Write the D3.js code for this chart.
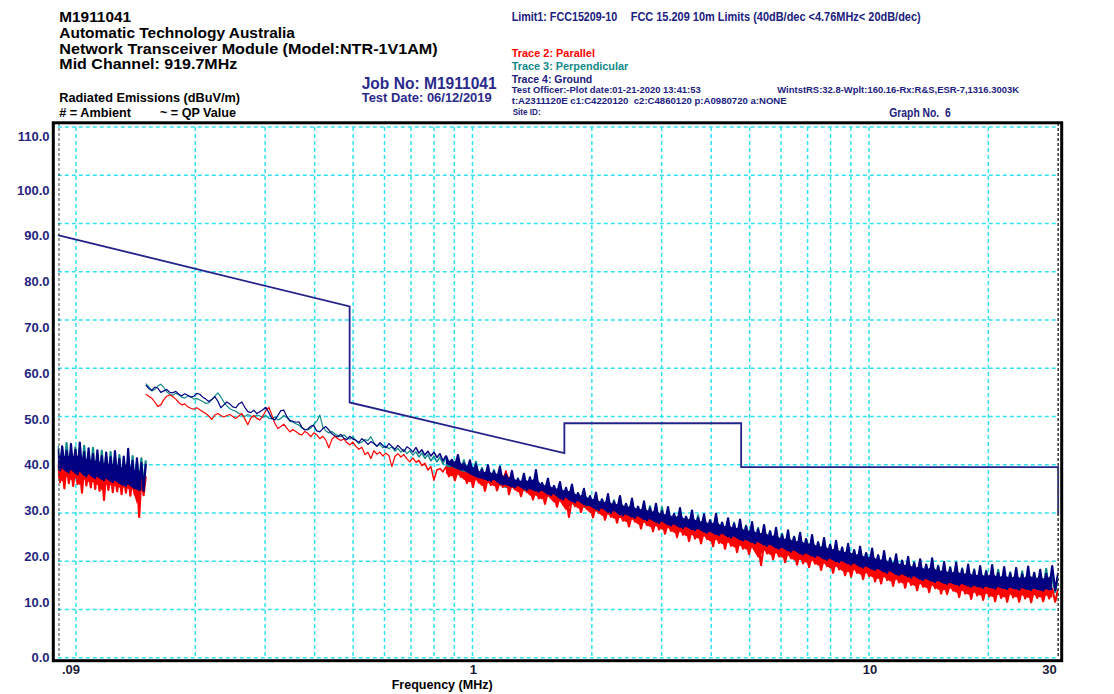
<!DOCTYPE html>
<html>
<head>
<meta charset="utf-8">
<script src="https://cdn.jsdelivr.net/npm/d3@7"></script>
<style>
  body { margin: 0; background: #fff; }
  svg { display: block; }
  text { font-family: "Liberation Sans", Arial, sans-serif; font-weight: bold; white-space: pre; }
</style>
</head>
<body>
<svg id="chart" width="1114" height="694"></svg>
<script>
// ---- axis values -------------------------------------------------------
const yTicks = [0, 10, 20, 30, 40, 50, 60, 70, 80, 90, 100, 110];
const yTickLabels = ["0.0", "10.0", "20.0", "30.0", "40.0", "50.0", "60.0", "70.0", "80.0", "90.0", "100.0", "110.0"];
const xTickValues = [0.09, 1, 10, 30];
const xTickLabels = [".09", "1", "10", "30"];
const gridMHz = [0.1, 0.2, 0.3, 0.4, 0.5, 0.6, 0.7, 0.8, 0.9, 1, 2, 3, 4, 5, 6, 7, 8, 9, 10, 20];

// ---- FCC 15.209 limit (10 m) ---------------------------------------------
const limitMHz = [0.09, 0.49, 0.49, 1.705, 1.705, 4.76, 4.76, 30, 30];
const limitDb  = [87.6, 72.8, 52.9, 42.4, 48.6, 48.6, 39.5, 39.5, 29.5];

// ---- 90 kHz - 150 kHz sweep (peak/trough pairs, dBuV/m) ----------------
const ambientGround = [43.2,38.8,43.8,39.2,42.9,38.4,44.3,38.9,43.1,38.0,
  44.6,38.5,42.6,37.6,43.4,38.1,42.2,37.2,43.0,37.5,
  41.8,36.8,42.5,37.1,41.6,36.4,42.8,36.7,41.2,36.0,
  41.7,35.6,43.3,35.9,40.8,35.2,41.3,34.8,40.4,34.6,
  40.2];
const ambientPerp = [43.9,39.4,43.0,38.7,44.5,39.0,42.7,38.2,43.6,38.6,
  43.2,37.9,43.9,38.3,42.4,37.5,43.5,37.8,42.1,37.0,
  42.9,37.3,41.8,36.6,42.6,36.9,41.5,36.2,42.0,35.8,
  41.2,35.9,40.7,35.4,41.8,35.1,40.6,35.2,41.3,35.0,
  40.9];
const ambientParallel = [40.2,36.4,39.8,35.1,40.5,36.2,39.6,35.6,39.9,36.0,
  39.4,34.2,39.8,35.7,39.1,35.3,39.5,35.0,38.8,34.6,
  39.2,32.7,38.6,34.8,38.9,34.3,38.2,34.5,38.5,33.9,
  37.8,34.2,38.3,33.6,37.6,33.8,37.9,29.2,37.4,33.7,
  37.6];

// ---- 150 kHz - 30 MHz sweep (dBuV/m) -----------------------------------
// above ~0.8 MHz the readings alternate peak / trough
const sweepGround = [56.5,55.8,55.4,56.1,55.9,55.0,55.3,55.6,55.0,54.9,
  55.2,54.6,54.3,54.7,54.4,54.0,54.2,54.8,54.6,54.0,
  53.6,53.1,53.5,54.1,53.2,51.8,52.4,53.0,52.6,52.0,
  51.8,52.6,53.0,51.9,51.0,50.8,51.3,50.6,51.0,51.4,
  51.9,50.8,49.6,49.3,50.2,51.2,51.3,50.0,49.2,49.0,
  48.8,48.9,47.8,47.2,47.4,48.0,48.1,47.0,46.8,47.5,
  47.9,47.2,46.4,46.0,45.8,46.3,45.5,45.2,45.9,45.3,
  45.1,44.6,45.4,44.9,44.2,44.8,44.4,43.8,44.6,44.0,
  43.5,44.4,43.8,43.2,44.0,43.4,42.7,43.7,43.3,42.6,
  43.6,42.4,43.1,42.0,42.8,41.8,42.6,41.5,42.3,40.8,
  41.9,40.2,41.0,39.6,42.0,39.0,40.3,38.8,40.9,38.0,
  40.1,37.4,39.0,37.1,39.9,36.6,38.6,36.9,39.6,35.9,
  38.0,35.8,38.7,35.3,37.0,35.6,38.1,34.8,37.4,34.9,
  38.9,34.4,36.2,34.6,37.1,33.7,35.6,33.9,36.4,32.8,
  35.2,33.1,35.9,32.2,34.1,32.5,35.0,31.6,33.5,31.4,
  34.2,30.6,32.8,30.9,33.9,30.0,32.3,30.4,33.5,29.5,
  31.9,29.7,33.0,29.0,31.3,29.3,32.4,28.5,31.0,28.7,
  31.9,27.9,30.4,28.2,31.2,27.4,29.8,27.6,31.0,26.9,
  29.2,27.1,30.5,26.4,29.0,26.7,29.7,25.9,28.5,26.1,
  29.8,25.4,28.0,25.7,28.9,24.9,27.7,25.1,28.6,24.3,
  27.2,24.4,28.1,23.7,26.6,24.0,27.5,23.2,26.2,23.4,
  26.9,22.6,25.4,22.8,26.4,22.0,25.0,22.2,25.9,21.4,
  24.6,21.6,25.4,20.9,23.9,21.1,24.8,20.3,23.4,20.5,
  24.2,19.8,22.8,20.0,23.6,19.3,22.3,19.5,23.0,18.7,
  21.7,18.9,22.6,18.2,21.2,18.4,22.1,17.6,20.6,17.9,
  21.4,17.1,20.1,17.3,20.9,16.6,19.6,16.9,20.4,16.1,
  19.3,16.3,20.6,15.7,18.9,15.9,19.8,15.3,18.6,15.5,
  19.7,15.0,18.3,15.3,19.3,14.7,18.1,14.9,19.0,14.5,
  17.9,14.7,19.2,14.3,17.6,14.6,18.8,14.2,17.5,14.5,
  18.6,14.1,17.3,14.4,18.9,14.0,17.6,14.3,18.2,13.9,
  17.4,14.2,19.0,14.0,17.6];
const sweepPerp = [56.8,56.2,55.3,55.6,56.3,56.7,56.0,55.1,54.6,54.4,
  54.8,54.5,54.0,53.8,54.3,54.1,53.6,53.7,53.4,53.1,
  52.7,52.8,53.5,54.2,54.9,54.1,53.0,52.2,51.6,51.3,
  51.1,50.6,50.3,50.0,50.4,50.1,49.9,50.3,50.1,49.8,
  50.2,49.6,49.5,49.9,49.3,49.6,50.2,49.8,49.0,48.8,
  48.5,48.2,47.6,47.3,47.2,47.6,48.4,49.0,50.3,47.8,
  47.0,46.6,46.9,46.4,46.0,45.8,46.2,45.6,45.3,45.8,
  45.0,44.4,44.7,45.2,45.0,45.8,44.6,43.9,44.2,43.5,
  43.9,43.3,43.7,42.8,43.4,42.6,43.2,42.3,42.9,42.0,
  42.7,41.6,42.4,41.3,42.1,40.8,41.8,40.6,41.6,40.1,
  41.5,39.6,41.0,39.0,40.8,38.6,40.9,38.1,39.9,37.6,
  40.6,37.1,39.3,36.4,38.8,36.5,38.9,36.1,38.1,35.7,
  37.8,35.1,37.5,35.3,37.2,34.7,36.9,34.5,36.7,34.3,
  36.4,34.1,36.2,33.9,35.9,33.4,35.3,33.0,35.0,32.5,
  34.8,32.3,34.4,31.8,34.1,31.4,33.6,31.1,33.2,30.5,
  33.0,30.3,32.8,29.9,32.2,29.7,32.6,29.4,33.1,29.1,
  31.8,29.0,32.2,28.8,31.2,28.4,30.9,28.1,31.4,27.8,
  30.4,27.6,31.1,27.4,30.0,27.1,29.8,26.8,30.2,26.6,
  29.2,26.4,29.0,26.1,29.5,25.8,28.4,25.5,28.3,25.3,
  28.7,25.1,27.9,24.9,27.7,24.5,28.0,24.2,27.2,24.0,
  27.4,23.7,26.5,23.4,26.9,23.1,25.9,22.9,26.2,22.5,
  25.3,22.2,25.7,21.9,24.8,21.6,25.1,21.3,25.2,21.1,
  24.5,20.8,23.7,20.5,23.9,20.2,23.1,19.9,23.4,19.6,
  22.5,19.4,22.8,19.1,21.9,18.9,22.2,18.6,21.4,18.3,
  21.6,18.1,20.9,17.8,21.2,17.5,20.3,17.2,20.6,16.9,
  19.9,16.7,20.1,16.4,19.4,16.2,19.8,15.9,19.0,15.7,
  19.2,15.5,18.7,15.3,19.1,15.1,18.4,14.9,18.8,14.8,
  18.1,14.6,18.5,14.5,17.8,14.3,18.3,14.2,17.6,14.1,
  18.0,14.0,17.4,13.9,18.2,13.9,17.2,13.8,17.7,13.8,
  17.1,13.7,17.9,13.7,17.0,13.6,17.5,13.6,16.9,13.7,
  18.4,13.5,17.1,13.6,16.8];
const sweepParallel = [54.6,54.2,53.8,53.0,52.1,52.4,53.5,54.2,54.5,54.1,
  53.6,52.9,52.4,52.6,52.0,51.7,51.5,51.8,51.4,51.0,
  50.6,50.1,49.4,50.3,50.6,50.2,49.9,50.2,50.4,50.0,
  49.6,50.1,50.6,49.5,48.3,49.7,50.2,49.6,49.3,50.1,
  51.2,51.9,50.3,48.6,47.5,47.9,48.4,47.6,46.8,47.3,
  46.9,46.4,46.2,46.9,46.5,45.8,46.6,46.2,45.4,45.9,
  45.1,43.5,45.2,45.9,45.4,45.0,45.4,44.6,44.1,44.7,
  43.8,43.2,43.6,42.1,42.6,41.3,42.9,42.2,42.6,41.8,
  42.4,41.9,39.6,41.7,42.3,41.6,42.1,41.2,40.6,41.4,
  40.5,40.9,39.8,40.3,38.9,39.6,36.8,38.9,39.2,38.5,
  39.6,37.6,39.4,36.8,39.0,37.5,38.4,36.2,38.6,35.4,
  38.1,36.3,37.7,34.6,37.3,35.8,37.5,34.7,36.6,35.4,
  38.6,33.9,36.2,34.9,35.9,33.5,35.7,34.4,35.3,32.8,
  35.0,33.0,34.8,31.9,34.5,33.1,34.0,31.3,33.8,31.8,
  33.5,29.2,33.2,31.4,32.7,30.2,32.4,30.8,32.0,29.1,
  31.6,30.0,31.2,28.6,31.0,29.2,30.6,28.0,30.4,28.4,
  30.1,27.2,29.8,28.2,29.5,26.8,29.3,27.5,29.0,26.2,
  28.8,26.6,28.5,25.7,28.2,26.3,27.9,25.0,27.6,25.5,
  27.4,24.2,27.1,24.7,26.8,23.7,26.5,24.6,26.3,23.1,
  26.0,23.8,25.7,22.6,25.4,23.2,25.1,21.9,24.8,22.6,
  24.5,21.5,24.2,22.2,24.0,19.2,23.7,21.6,23.4,20.4,
  23.1,21.0,22.8,19.8,22.5,20.6,22.2,19.3,22.0,19.6,
  21.7,18.8,21.4,19.5,21.1,18.2,20.8,19.0,20.6,17.6,
  20.3,18.3,20.0,17.1,19.8,16.8,19.5,17.6,19.2,16.3,
  19.0,16.9,18.7,15.8,18.4,15.4,18.2,16.1,17.9,14.9,
  17.6,15.6,17.4,14.5,17.1,15.1,16.9,14.0,16.6,14.7,
  16.4,13.6,16.2,14.4,16.0,13.3,15.8,13.2,15.6,13.9,
  15.4,12.6,15.3,13.3,15.1,12.2,15.0,12.9,14.9,12.0,
  14.8,12.7,14.7,11.7,14.6,12.4,14.6,11.6,14.5,12.5,
  14.5,11.6,14.4,12.3,14.4,11.5,14.4,12.4,14.3,11.7,
  14.3,12.3,14.3,11.6,14.2];

// ---- colours -----------------------------------------------------------
const NAVY = "#000080", TEAL = "#138a8a", RED = "#ff0000";
const INK = "#202080", GRID = "#30e2f0";

const svg = d3.select("#chart");

const x = d3.scaleLog().domain([0.09, 30]).range([57.8, 1058.2]);
const y = d3.scaleLinear().domain([0, 110]).range([657.7, 127]);
// tick label centres are spread slightly differently from the grid
const yLabel = d3.scaleLinear().domain([0, 10, 100, 110]).range([657, 602, 190, 136]);

// sweep frequencies: points are evenly spaced on the log axis
const freqA = d3.range(ambientGround.length)
  .map(i => 0.09 * Math.pow(0.15 / 0.09, i / (ambientGround.length - 1)));
const freqB = d3.range(sweepGround.length)
  .map(i => 0.15 * Math.pow(30 / 0.15, i / (sweepGround.length - 1)));

const x0 = x(0.09), x1 = x(30), yTop = y(110), yBot = y(0);

// ---- grid --------------------------------------------------------------
const grid = svg.append("g")
  .attr("stroke", GRID).attr("stroke-width", 1.5).attr("stroke-dasharray", "4,3");
grid.selectAll("line.h").data(yTicks).join("line").attr("class", "h")
  .attr("x1", x0).attr("x2", x1).attr("y1", d => y(d)).attr("y2", d => y(d));
grid.selectAll("line.v").data(gridMHz).join("line").attr("class", "v")
  .attr("x1", d => x(d)).attr("x2", d => x(d)).attr("y1", yTop).attr("y2", yBot);

// ---- traces ------------------------------------------------------------
svg.append("clipPath").attr("id", "plotClip").append("rect")
  .attr("x", x0).attr("y", yTop - 4).attr("width", x1 - x0).attr("height", yBot - yTop + 4);
const traces = svg.append("g").attr("clip-path", "url(#plotClip)")
  .attr("stroke-linejoin", "round");

// plain polyline through the readings
function drawLine(g, freqs, values, color, from, to, width) {
  const line = d3.line().x(d => x(d[0])).y(d => y(d[1]));
  const pts = d3.range(from, to + 1).map(i => [freqs[i], values[i]]);
  g.append("path").attr("d", line(pts)).attr("fill", "none")
    .attr("stroke", color).attr("stroke-width", width);
}

// dense part of a sweep: readings come as peak/trough pairs; the body of
// each pair is filled (trimmed at the spiky side) and the raw zig-zag is
// stroked on top
function drawBand(g, freqs, values, color, from, to, trimTop, trimBottom) {
  const pairs = [];
  for (let i = from; i + 1 <= to; i += 2) {
    pairs.push({ f: freqs[i], hi: values[i], lo: values[i + 1] });
  }
  const body = d3.area().x(d => x(d.f))
    .y0(d => y(d.lo + trimBottom * (d.hi - d.lo)))
    .y1(d => y(d.hi - trimTop * (d.hi - d.lo)));
  g.append("path").attr("d", body(pairs)).attr("fill", color).attr("stroke", "none");
  drawLine(g, freqs, values, color, from, to, 2.2);
}

// perpendicular first, then parallel, ground on top
const sets = [
  [ambientPerp, sweepPerp, TEAL, 0.4, 0.0],
  [ambientParallel, sweepParallel, RED, 0.0, 0.3],
  [ambientGround, sweepGround, NAVY, 0.35, 0.0]
];
const last = sweepGround.length - 1;
sets.forEach(([a, b, c, tt, tb]) => {
  const g = traces.append("g");
  drawBand(g, freqA, a, c, 0, a.length - 1, tt, tb);
  drawLine(g, freqB, b, c, 0, 90, 1.2);
  drawLine(g, freqB, b, c, 90, 100, 1.5);
  drawBand(g, freqB, b, c, 100, last, tt, tb);
});

// ---- limit line --------------------------------------------------------
const limitLine = d3.line().x(d => x(d[0])).y(d => y(d[1]));
svg.append("path")
  .attr("d", limitLine(limitMHz.map((f, i) => [f, limitDb[i]])))
  .attr("fill", "none").attr("stroke", "#22228a").attr("stroke-width", 1.8);

// ---- start / stop markers ----------------------------------------------
svg.selectAll("line.edge").data([0.09, 30]).join("line").attr("class", "edge")
  .attr("x1", d => x(d) + (d < 1 ? 1.2 : 0)).attr("x2", d => x(d) + (d < 1 ? 1.2 : 0))
  .attr("y1", yTop - 4).attr("y2", yBot)
  .attr("stroke", "#444").attr("stroke-width", d => d < 1 ? 1 : 1.6)
  .attr("stroke-dasharray", "3,2");

// ---- frame -------------------------------------------------------------
svg.append("rect")
  .attr("x", x0 - 4.5).attr("y", yTop - 4.2)
  .attr("width", (x1 + 3.5) - (x0 - 4.5)).attr("height", (yBot + 3) - (yTop - 4.2))
  .attr("fill", "none").attr("stroke", "#000").attr("stroke-width", 3);

// ---- axis labels -------------------------------------------------------
svg.selectAll("text.ylab").data(yTicks).join("text").attr("class", "ylab")
  .attr("x", 49.5).attr("y", d => yLabel(d) + 4.7)
  .attr("text-anchor", "end").attr("font-size", 13).attr("fill", "#25257f")
  .text((d, i) => yTickLabels[i]);

svg.selectAll("text.xlab").data(xTickValues).join("text").attr("class", "xlab")
  .attr("x", d => d === 0.09 ? x(d) + 4.2 : d === 30 ? x(d) - 1.5 : x(d) + 1)
  .attr("y", 674)
  .attr("text-anchor", d => d === 0.09 ? "start" : d === 30 ? "end" : "middle")
  .attr("font-size", 13).attr("fill", "#1a1a3a")
  .text((d, i) => xTickLabels[i]);

function label(txt, px, py, size, color, width) {
  const t = svg.append("text").attr("x", px).attr("y", py)
    .attr("font-size", size).attr("fill", color).text(txt);
  if (width) t.attr("textLength", width).attr("lengthAdjust", "spacingAndGlyphs");
  return t;
}

label("Frequency (MHz)", 391.7, 688.5, 12, "#000", 101);

// ---- header ------------------------------------------------------------
label("M1911041", 59.3, 21.7, 15, "#000", 71.7);
label("Automatic Technology Australia", 59.3, 37.7, 15, "#000", 235.7);
label("Network Transceiver Module (Model:NTR-1V1AM)", 59.3, 54, 15, "#000", 378.4);
label("Mid Channel: 919.7MHz", 59.3, 69.3, 15, "#000", 178);
label("Radiated Emissions (dBuV/m)", 59.3, 101.6, 12, "#000", 180.7);
label("# = Ambient", 59.3, 116.6, 12, "#000", 71.7);
label("~ = QP Value", 160, 116.6, 12, "#000", 76);

label("Job No: M1911041", 361.7, 89.2, 16.5, "#2a2a8c", 135);
label("Test Date: 06/12/2019", 361.7, 101.6, 12.5, "#2a2a8c", 130);

label("Limit1: FCC15209-10", 511.7, 20.7, 12.5, INK, 105.6);
label("FCC 15.209 10m Limits (40dB/dec <4.76MHz< 20dB/dec)", 630.7, 20.7, 12.5, INK, 290);
label("Trace 2: Parallel", 511.7, 57.3, 11.5, RED, 83.3);
label("Trace 3: Perpendicular", 511.7, 69.9, 11.5, TEAL, 116.6);
label("Trace 4: Ground", 511.7, 82.8, 11.5, INK, 80.6);
label("Test Officer:-Plot date:01-21-2020 13:41:53", 511.7, 93, 9.5, INK, 189);
label("WintstRS:32.8-Wplt:160.16-Rx:R&S,ESR-7,1316.3003K", 777.3, 93, 9.5, INK, 241.7);
label("t:A2311120E c1:C4220120  c2:C4860120 p:A0980720 a:NONE", 511.7, 104, 9.5, INK, 275);
label("Site ID:", 512.7, 115, 9.5, INK, 28);
label("Graph No.  6", 889.3, 117, 13, INK, 61.4);
</script>
</body>
</html>
